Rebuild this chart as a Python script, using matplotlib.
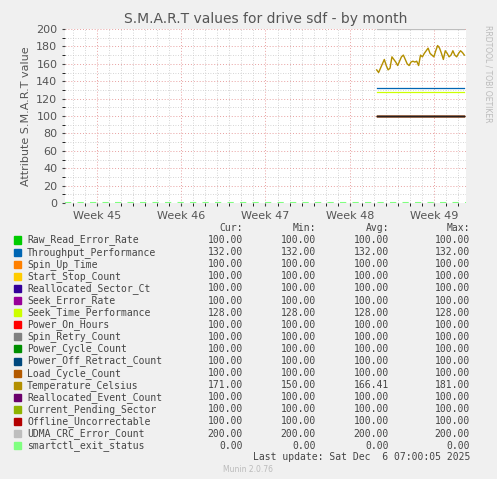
import matplotlib
matplotlib.use("Agg")
import matplotlib.pyplot as plt
import numpy as np

names = ["Raw_Read_Error_Rate","Throughput_Performance","Spin_Up_Time","Start_Stop_Count",
 "Reallocated_Sector_Ct","Seek_Error_Rate","Seek_Time_Performance","Power_On_Hours",
 "Spin_Retry_Count","Power_Cycle_Count","Power_Off_Retract_Count","Load_Cycle_Count",
 "Temperature_Celsius","Reallocated_Event_Count","Current_Pending_Sector",
 "Offline_Uncorrectable","UDMA_CRC_Error_Count","smartctl_exit_status"]
colors = ["#00CC00","#0066B3","#FF8000","#FFCC00","#330099","#990099","#CCFF00","#FF0000",
 "#808080","#008F00","#00487D","#B35A00","#B38F00","#6B006B","#8FB300","#B30000","#BEBEBE","#80FF80"]
cur = [100,132,100,100,100,100,128,100,100,100,100,100,171,100,100,100,200,0]
mn  = [100,132,100,100,100,100,128,100,100,100,100,100,150,100,100,100,200,0]
avg = [100,132,100,100,100,100,128,100,100,100,100,100,166.41,100,100,100,200,0]
mx  = [100,132,100,100,100,100,128,100,100,100,100,100,181,100,100,100,200,0]
temp = [153,150,155,160,165,158,153,155,168,165,162,158,163,168,170,165,160,158,162,163,162,
        163,158,170,168,172,175,178,172,170,168,175,181,178,172,165,175,172,168,170,175,170,
        168,172,175,173,170]
week_ticks = [45,46,47,48,49]
x0, x1 = 44.62, 49.38
xs, xe = 48.32, 49.36

fig = plt.figure(figsize=(4.97,4.79), dpi=100, facecolor="#F0F0F0")
ax = fig.add_axes([65/497, 1-203/479, 401/497, 174/479], facecolor="white")
xt = np.linspace(xs, xe, len(temp))
for i,n in enumerate(names):
    if n == "Temperature_Celsius":
        ax.plot(xt, temp, color=colors[i], lw=1)
    elif cur[i] == 0:
        ax.plot([x0, x1], [cur[i]]*2, color=colors[i], lw=1.5, ls=(0,(3,3)))
    else:
        ax.plot([xs, xe], [cur[i]]*2, color=colors[i], lw=0.9)
ax.plot([xs, xe], [100,100], color="#222222", lw=0.7)
ax.set_xlim(x0, x1); ax.set_ylim(0, 200)
ax.set_xticks(week_ticks); ax.set_xticklabels([f"Week {w}" for w in week_ticks])
ax.set_xticks(np.arange(44+5/7, x1, 1/7), minor=True)
ax.set_yticks(range(0,201,20)); ax.set_yticks(range(10,200,20), minor=True)
ax.grid(which="major", axis="both", color="#E8A0A0", ls=(0,(1,2)), lw=0.7)
ax.grid(which="minor", axis="both", color="#C8C8C8", ls=(0,(1,2)), lw=0.6)
ax.tick_params(labelsize=8, colors="#444444", length=2)
for t in ax.get_xticklabels()+ax.get_yticklabels(): t.set_color("#555555")
for s in ax.spines.values(): s.set_visible(False)
ax.set_title("S.M.A.R.T values for drive sdf - by month", fontsize=10, color="#555555", pad=4)
ax.set_ylabel("Attribute S.M.A.R.T value", fontsize=8, color="#555555")
fig.text(488/497, 1-25/479, "RRDTOOL / TOBI OETIKER", rotation=270, fontsize=5.5, color="#BBBBBB", va="top", ha="center")

mono = "DejaVu Sans Mono"
def fy(p): return 1-p/479
cols = [243, 316, 389, 470]
for c, h in zip(cols, ["Cur:","Min:","Avg:","Max:"]):
    fig.text(c/497, fy(228), h, ha="right", va="center", fontsize=7, family=mono, color="#444444")
for i,n in enumerate(names):
    y = fy(240 + i*12.1)
    fig.patches.append(plt.Rectangle((14/497, y-3.5/479), 7/497, 7/479, transform=fig.transFigure, color=colors[i]))
    fig.text(27/497, y, n, va="center", fontsize=7, family=mono, color="#444444")
    for c, v in zip(cols, [cur[i], mn[i], avg[i], mx[i]]):
        fig.text(c/497, y, f"{v:.2f}", ha="right", va="center", fontsize=7, family=mono, color="#444444")
fig.text(470/497, fy(457), "Last update: Sat Dec  6 07:00:05 2025", ha="right", va="center", fontsize=7, family=mono, color="#444444")
fig.text(248/497, fy(469), "Munin 2.0.76", ha="center", va="center", fontsize=5.5, color="#BBBBBB")
fig.savefig("out.png", dpi=100, facecolor=fig.get_facecolor())
